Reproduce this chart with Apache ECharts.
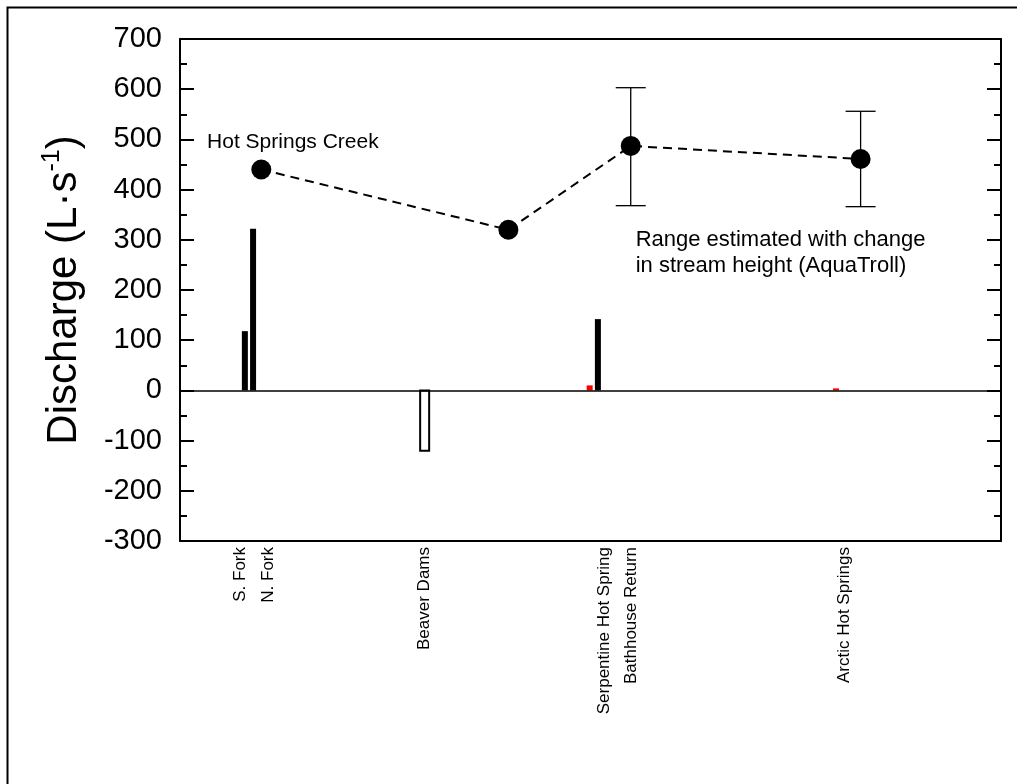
<!DOCTYPE html>
<html>
<head>
<meta charset="utf-8">
<style>
  html, body { margin: 0; padding: 0; background: #fff; }
  #chart { width: 1017px; height: 784px; }
</style>
<script src="https://cdn.jsdelivr.net/npm/echarts@6.0.0/dist/echarts.min.js"></script>
</head>
<body>
<div id="chart"></div>
<script>
// ---- data (x = position along the creek, arbitrary 0..100 scale) ----
const creekX = [9.9, 40.0, 54.9, 82.9];
const creekY = [440, 320, 487, 461];

const errX = [54.9, 82.9];
const errLow = [368, 366];
const errHigh = [603, 556];

const inflowNames = ['S. Fork', 'N. Fork', 'Bathhouse Return'];
const inflowX = [7.9, 8.9, 50.9];
const inflowY = [118, 322, 142];

const lossNames = ['Beaver Dams'];
const lossX = [29.8];
const lossY = [-120];

const springNames = ['Serpentine Hot Spring', 'Arctic Hot Springs'];
const springX = [49.9, 79.9];
const springY = [10, 4];

const labelNames = ['S. Fork', 'N. Fork', 'Beaver Dams', 'Serpentine Hot Spring', 'Bathhouse Return', 'Arctic Hot Springs'];
const labelX = [7.4, 10.8, 29.8, 51.7, 55.0, 80.9];

const yTicks = { min: -300, max: 700, interval: 100 };

const FONT = 'Liberation Sans, Arial, sans-serif';

function barSeries(xs, ys, width, style) {
  return {
    type: 'custom',
    xAxisIndex: 0, yAxisIndex: 0,
    clip: false,
    data: xs.map((x, i) => [x, ys[i]]),
    renderItem: function (params, api) {
      const top = api.coord([api.value(0), api.value(1)]);
      const base = api.coord([api.value(0), 0]);
      const y0 = Math.min(top[1], base[1]);
      const h = Math.abs(top[1] - base[1]);
      return {
        type: 'rect',
        shape: { x: top[0] - width / 2, y: y0, width: width, height: h },
        style: style
      };
    },
    z: 3
  };
}

const chart = echarts.init(document.getElementById('chart'));
const option = {
  backgroundColor: '#fff',
  animation: false,
  textStyle: { fontFamily: FONT },
  grid: { left: 180, top: 39, right: 16, bottom: 243 },
  xAxis: [
    { type: 'value', min: 0, max: 100, position: 'bottom',
      axisLine: { show: true, onZero: false, lineStyle: { color: '#000', width: 2 } },
      axisTick: { show: false }, axisLabel: { show: false }, splitLine: { show: false } },
    { type: 'value', min: 0, max: 100, position: 'top',
      axisLine: { show: true, onZero: false, lineStyle: { color: '#000', width: 2 } },
      axisTick: { show: false }, axisLabel: { show: false }, splitLine: { show: false } }
  ],
  yAxis: [
    { type: 'value', min: yTicks.min, max: yTicks.max, interval: yTicks.interval, position: 'left',
      name: '{a|Discharge (L·s}{s|-1}{a|)}',
      nameLocation: 'middle', nameRotate: 90, nameGap: 92,
      nameTextStyle: { rich: {
        a: { fontSize: 42, fontFamily: FONT, color: '#000', lineHeight: 48 },
        s: { fontSize: 25, fontFamily: FONT, color: '#000', lineHeight: 25, verticalAlign: 'top' }
      } },
      axisLine: { show: true, onZero: false, lineStyle: { color: '#000', width: 2 } },
      axisTick: { show: true, inside: true, length: 14, lineStyle: { color: '#000', width: 2 } },
      minorTick: { show: true, splitNumber: 2, length: 7, lineStyle: { color: '#000', width: 2 } },
      axisLabel: { color: '#000', fontSize: 29, fontFamily: FONT, margin: 18 },
      splitLine: { show: false }, minorSplitLine: { show: false } },
    { type: 'value', min: yTicks.min, max: yTicks.max, interval: yTicks.interval, position: 'right',
      axisLine: { show: true, onZero: false, lineStyle: { color: '#000', width: 2 } },
      axisTick: { show: true, inside: true, length: 14, lineStyle: { color: '#000', width: 2 } },
      minorTick: { show: true, splitNumber: 2, length: 7, lineStyle: { color: '#000', width: 2 } },
      axisLabel: { show: false }, splitLine: { show: false } }
  ],
  graphic: [
    { type: 'rect', left: 5, top: 5, shape: { width: 1100, height: 900 },
      style: { fill: 'none', stroke: '#000', lineWidth: 2 }, silent: true, z: -1 }
  ],
  series: [
    // zero line
    { type: 'line', data: [], xAxisIndex: 0, yAxisIndex: 0,
      markLine: { silent: true, symbol: 'none', label: { show: false },
        lineStyle: { color: '#000', width: 1.5, type: 'solid' },
        data: [{ yAxis: 0 }] } },
    barSeries(inflowX, inflowY, 6, { fill: '#000' }),
    barSeries(lossX, lossY, 9, { fill: '#fff', stroke: '#000', lineWidth: 2 }),
    barSeries(springX, springY, 6, { fill: '#ff0000' }),
    // error bars
    { type: 'custom', xAxisIndex: 0, yAxisIndex: 0, z: 4,
      data: errX.map((x, i) => [x, errLow[i], errHigh[i]]),
      renderItem: function (params, api) {
        const lo = api.coord([api.value(0), api.value(1)]);
        const hi = api.coord([api.value(0), api.value(2)]);
        const cw = 15;
        const st = { stroke: '#000', lineWidth: 1.3 };
        return { type: 'group', children: [
          { type: 'line', shape: { x1: lo[0], y1: lo[1], x2: hi[0], y2: hi[1] }, style: st },
          { type: 'line', shape: { x1: lo[0] - cw, y1: lo[1], x2: lo[0] + cw, y2: lo[1] }, style: st },
          { type: 'line', shape: { x1: hi[0] - cw, y1: hi[1], x2: hi[0] + cw, y2: hi[1] }, style: st }
        ] };
      } },
    // Hot Springs Creek
    { type: 'line', xAxisIndex: 0, yAxisIndex: 0, z: 5,
      data: creekX.map((x, i) => [x, creekY[i]]),
      symbol: 'circle', symbolSize: 20,
      itemStyle: { color: '#000' },
      lineStyle: { color: '#000', width: 2, type: [9, 6] } },
    // category labels under axis
    { type: 'scatter', xAxisIndex: 0, yAxisIndex: 0, symbolSize: 0, silent: true,
      itemStyle: { opacity: 1 },
      data: labelX.map((x, i) => ({ value: [x, yTicks.min], name: labelNames[i] })),
      label: { show: true, formatter: '{b}', position: 'bottom', distance: 6, rotate: 90,
        align: 'right', verticalAlign: 'middle', fontSize: 17, color: '#000', opacity: 1, fontFamily: FONT } },
    // annotations
    { type: 'scatter', xAxisIndex: 0, yAxisIndex: 0, symbolSize: 0, silent: true,
      itemStyle: { opacity: 1 },
      data: [
        { value: [3.3, 494], name: 'Hot Springs Creek', label: { fontSize: 21 } },
        { value: [55.5, 326], name: 'Range estimated with change\nin stream height (AquaTroll)', label: { fontSize: 22, verticalAlign: 'top', lineHeight: 26 } }
      ],
      label: { show: true, formatter: '{b}', position: 'inside', align: 'left', verticalAlign: 'middle',
        color: '#000', opacity: 1, fontFamily: FONT } }
  ]
};
chart.setOption(option);
</script>
</body>
</html>
